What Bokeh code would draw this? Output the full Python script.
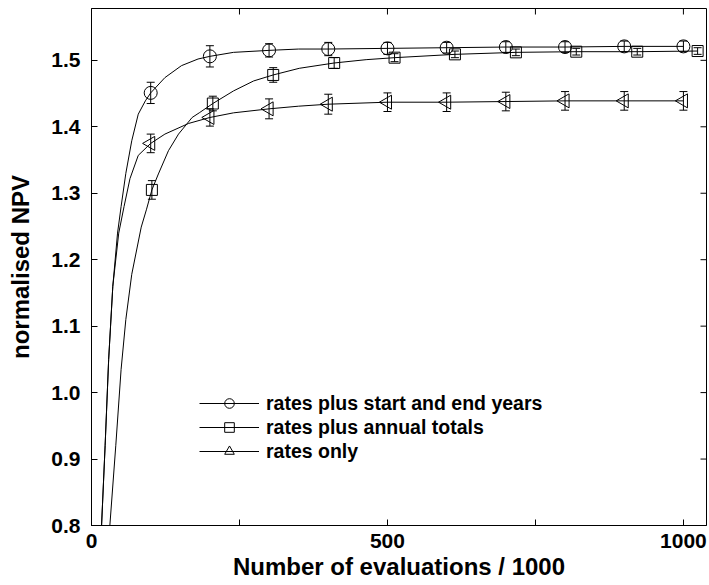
import numpy as np
from bokeh.plotting import figure
from bokeh.models import (ColumnDataSource, Range1d, LinearAxis, FixedTicker, Whisker,
                          TeeHead, Legend, LegendItem, PrintfTickFormatter)
from bokeh.embed import file_html
from bokeh.resources import INLINE

# ---------------- data ----------------
eval_x = [100, 200, 300, 400, 500, 600, 700, 800, 900, 1000]
annual_x = [102, 205, 307, 410, 512, 614, 717, 819, 922, 1024]

startend_y = [1.451, 1.506, 1.515, 1.517, 1.518, 1.519, 1.520, 1.520, 1.521, 1.521]
startend_err = [0.016, 0.016, 0.010, 0.010, 0.009, 0.008, 0.008, 0.008, 0.008, 0.008]

annual_y = [1.305, 1.435, 1.478, 1.496, 1.504, 1.509, 1.512, 1.513, 1.513, 1.514]
annual_err = [0.014, 0.011, 0.011, 0.008, 0.006, 0.005, 0.005, 0.005, 0.005, 0.005]

rates_y = [1.375, 1.414, 1.427, 1.434, 1.437, 1.437, 1.438, 1.439, 1.439, 1.439]
rates_err = [0.014, 0.013, 0.015, 0.015, 0.014, 0.014, 0.014, 0.014, 0.014, 0.014]

# smooth fitted curves
startend_curve_x = [17, 23, 29, 36, 44, 50, 58, 68, 79, 91, 100, 124, 152, 180, 200,
                    240, 300, 350, 400, 500, 600, 700, 800, 900, 1000]
startend_curve_y = [0.80, 0.92, 1.05, 1.16, 1.24, 1.28, 1.33, 1.379, 1.419, 1.439, 1.451,
                    1.474, 1.492, 1.502, 1.506, 1.512, 1.515, 1.517, 1.517, 1.518, 1.519,
                    1.520, 1.520, 1.521, 1.521]

annual_curve_x = [31, 41, 50, 58, 68, 84, 93, 102, 113, 130, 147, 170, 182, 205, 240,
                  274, 307, 351, 410, 464, 512, 614, 717, 819, 922, 1024]
annual_curve_y = [0.80, 0.92, 1.035, 1.11, 1.178, 1.249, 1.276, 1.305, 1.329, 1.364,
                  1.389, 1.414, 1.421, 1.435, 1.454, 1.469, 1.478, 1.488, 1.496, 1.501,
                  1.504, 1.509, 1.512, 1.513, 1.513, 1.514]

rates_curve_x = [17, 23, 29, 36, 46, 55, 65, 79, 100, 124, 164, 200, 240, 300, 350, 400,
                 500, 600, 700, 800, 900, 1000]
rates_curve_y = [0.80, 0.92, 1.05, 1.16, 1.24, 1.28, 1.322, 1.357, 1.375, 1.389, 1.405,
                 1.414, 1.421, 1.427, 1.431, 1.434, 1.437, 1.437, 1.438, 1.439, 1.439, 1.439]

x_ticks = [0, 250, 500, 750, 1000]
x_tick_labels = {250: "", 750: ""}
y_ticks = [0.8, 0.9, 1.0, 1.1, 1.2, 1.3, 1.4, 1.5]

labels = ["rates plus start and end years", "rates plus annual totals", "rates only"]

X_MIN, X_MAX = 0, 1039
Y_MIN, Y_MAX = 0.8, 1.578

# ---------------- figure ----------------
FONT = "Liberation Sans"

p = figure(width=709, height=585, output_backend="svg", toolbar_location=None,
           x_range=Range1d(X_MIN, X_MAX), y_range=Range1d(Y_MIN, Y_MAX),
           x_axis_type=None, y_axis_type=None,
           min_border_left=91, min_border_right=3, min_border_top=8, min_border_bottom=60)
p.outline_line_color = "black"
p.outline_line_width = 1
p.background_fill_color = "white"
p.border_fill_color = "white"


def style_axis(ax):
    ax.axis_line_color = "black"
    ax.major_tick_line_color = "black"
    ax.major_tick_in = 6
    ax.major_tick_out = 0
    ax.minor_tick_line_color = None
    ax.major_label_text_font = FONT
    ax.major_label_text_font_style = "bold"
    ax.major_label_text_color = "black"
    ax.major_label_text_font_size = "21px"
    ax.axis_label_text_font = FONT
    ax.axis_label_text_font_style = "bold"
    ax.axis_label_text_color = "black"
    ax.axis_label_text_font_size = "24px"


xb = LinearAxis(ticker=FixedTicker(ticks=x_ticks), major_label_overrides=x_tick_labels,
                axis_label="Number of evaluations / 1000")
style_axis(xb)
xb.major_label_standoff = 8
xb.axis_label_standoff = 2
p.add_layout(xb, "below")

yl = LinearAxis(ticker=FixedTicker(ticks=y_ticks), formatter=PrintfTickFormatter(format="%.1f"),
                axis_label="normalised NPV")
style_axis(yl)
yl.major_label_standoff = 11
yl.axis_label_standoff = 14
p.add_layout(yl, "left")

# inward tick marks on the top and right edges of the frame
p.ray(x=x_ticks, y=[Y_MAX] * len(x_ticks), length=6, angle=-np.pi / 2,
      length_units="screen", line_color="black", line_width=1)
p.ray(x=[X_MAX] * len(y_ticks), y=y_ticks, length=6, angle=np.pi,
      length_units="screen", line_color="black", line_width=1)


# ---------------- series ----------------
def series(px, py, err, cx, cy, marker, size, angle=0.0):
    line_r = p.line(cx, cy, line_color="black", line_width=1)
    src = ColumnDataSource(dict(x=px, y=py,
                                upper=list(np.array(py) + np.array(err)),
                                lower=list(np.array(py) - np.array(err))))
    w = Whisker(source=src, base="x", upper="upper", lower="lower", dimension="height",
                line_color="black", line_width=1,
                upper_head=TeeHead(size=8, line_color="black", line_width=1),
                lower_head=TeeHead(size=8, line_color="black", line_width=1))
    p.add_layout(w)
    sc = p.scatter("x", "y", source=src, marker=marker, size=size, angle=angle,
                   fill_color=None, line_color="black", line_width=1)
    return line_r, sc


r1 = series(eval_x, startend_y, startend_err, startend_curve_x, startend_curve_y, "circle", 13)
r2 = series(annual_x, annual_y, annual_err, annual_curve_x, annual_curve_y, "square", 11)
r3 = series(eval_x, rates_y, rates_err, rates_curve_x, rates_curve_y, "triangle", 14, np.pi / 2)

legend = Legend(items=[LegendItem(label=labels[0], renderers=list(r1)),
                       LegendItem(label=labels[1], renderers=list(r2)),
                       LegendItem(label=labels[2], renderers=list(r3))],
                location=(108, 62), orientation="vertical",
                glyph_width=60, glyph_height=24, label_height=24, spacing=0,
                padding=0, margin=0, label_standoff=7,
                border_line_alpha=0, background_fill_alpha=0,
                label_text_font=FONT, label_text_font_style="bold",
                label_text_font_size="19.5px", label_text_color="black")
p.add_layout(legend)

open("out.html", "w").write(file_html(p, INLINE))
